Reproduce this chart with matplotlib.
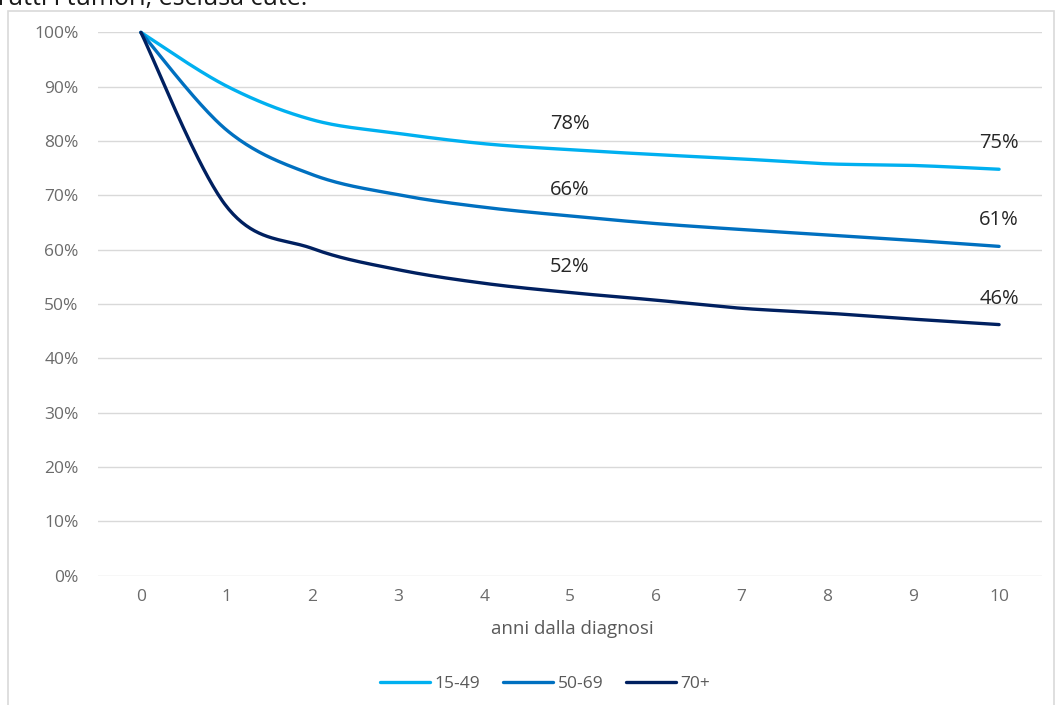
import numpy as np
import matplotlib
matplotlib.use("Agg")
import matplotlib.pyplot as plt
from matplotlib.patches import Rectangle
from matplotlib.ticker import PercentFormatter

# Relative survival by years since diagnosis, by age group
years = [0, 1, 2, 3, 4, 5, 6, 7, 8, 9, 10]
surv_15_49 = [100, 90.1, 83.9, 81.4, 79.5, 78.4, 77.5, 76.7, 75.8, 75.5, 74.8]
surv_50_69 = [100, 82.0, 73.8, 70.1, 67.8, 66.2, 64.8, 63.7, 62.7, 61.7, 60.6]
surv_70_plus = [100, 67.9, 60.2, 56.3, 53.8, 52.1, 50.7, 49.2, 48.3, 47.2, 46.2]

series_labels = ["15-49", "50-69", "70+"]
series_colors = ["#00B0F0", "#0070C0", "#002060"]
labelled_years = [5, 10]
y_ticks = [0, 10, 20, 30, 40, 50, 60, 70, 80, 90, 100]

plt.rcParams["font.family"] = ["Open Sans", "DejaVu Sans"]


def smooth(x, y, n=40):
    """Piecewise cubic Bezier through the points (Catmull-Rom style smoothing)."""
    x = np.asarray(x, float)
    y = np.asarray(y, float)
    xs, ys = [], []
    m = len(x)
    for i in range(m - 1):
        p0 = i - 1 if i > 0 else i
        p3 = i + 2 if i + 2 < m else i + 1
        c1x = x[i] + (x[i + 1] - x[p0]) / 6
        c1y = y[i] + (y[i + 1] - y[p0]) / 6
        c2x = x[i + 1] - (x[p3] - x[i]) / 6
        c2y = y[i + 1] - (y[p3] - y[i]) / 6
        t = np.linspace(0, 1, n, endpoint=(i == m - 2))
        a, b, c, d = (1 - t) ** 3, 3 * (1 - t) ** 2 * t, 3 * (1 - t) * t ** 2, t ** 3
        xs.append(a * x[i] + b * c1x + c * c2x + d * x[i + 1])
        ys.append(a * y[i] + b * c1y + c * c2y + d * y[i + 1])
    return np.concatenate(xs), np.concatenate(ys)


W, H = 1063, 705
fig = plt.figure(figsize=(W / 100, H / 100), dpi=100)

# outer chart frame (runs off the bottom of the canvas)
fig.patches.append(Rectangle((8 / W, -0.05), (1054 - 8) / W, 1.05 - 11 / H,
                             transform=fig.transFigure, fill=False,
                             edgecolor="#D9D9D9", linewidth=1.2))

# title, mostly above the top edge
fig.text(-6 / W, 1 - 5 / H, "Tutti i tumori, esclusa cute.", fontsize=18,
         color="#1a1a1a", ha="left", va="baseline")

ax = fig.add_axes([98 / W, (H - 575.5) / H, (1042 - 98) / W, (575.5 - 32.4) / H])

for vals, lab, col in zip([surv_15_49, surv_50_69, surv_70_plus], series_labels, series_colors):
    sx, sy = smooth(years, vals)
    ax.plot(sx, sy, color=col, linewidth=2.4, label=lab, clip_on=False,
            solid_capstyle="round")
    for yr in labelled_years:
        v = vals[years.index(yr)]
        ax.annotate(f"{round(v)}%", (yr, v), xytext=(0, 26), textcoords="offset pixels",
                    ha="center", va="center", fontsize=14.5, color="#262626")

ax.set_xlim(-0.5, 10.5)
ax.set_ylim(0, 100)
ax.set_xticks(years)
ax.set_yticks(y_ticks)
ax.yaxis.set_major_formatter(PercentFormatter(decimals=0))
ax.grid(axis="y", color="#D9D9D9", linewidth=1.0)
ax.set_axisbelow(True)
for s in ax.spines.values():
    s.set_visible(False)
ax.tick_params(axis="both", length=0, labelsize=12.5, colors="#6b6b6b")
ax.tick_params(axis="y", pad=14)
ax.tick_params(axis="x", pad=10)

ax.set_xlabel("anni dalla diagnosi", fontsize=13.5, color="#595959")
ax.xaxis.set_label_coords((572 - 98) / (1042 - 98), -53 / 543.1)
ax.xaxis.label.set_va("center")

fig.legend(loc="center", bbox_to_anchor=(545 / W, 1 - 683.5 / H), ncol=3,
           frameon=False, fontsize=12.5, labelcolor="#595959",
           handlelength=2.9, handletextpad=0.25, columnspacing=1.3)

fig.savefig("out.png", dpi=100)
